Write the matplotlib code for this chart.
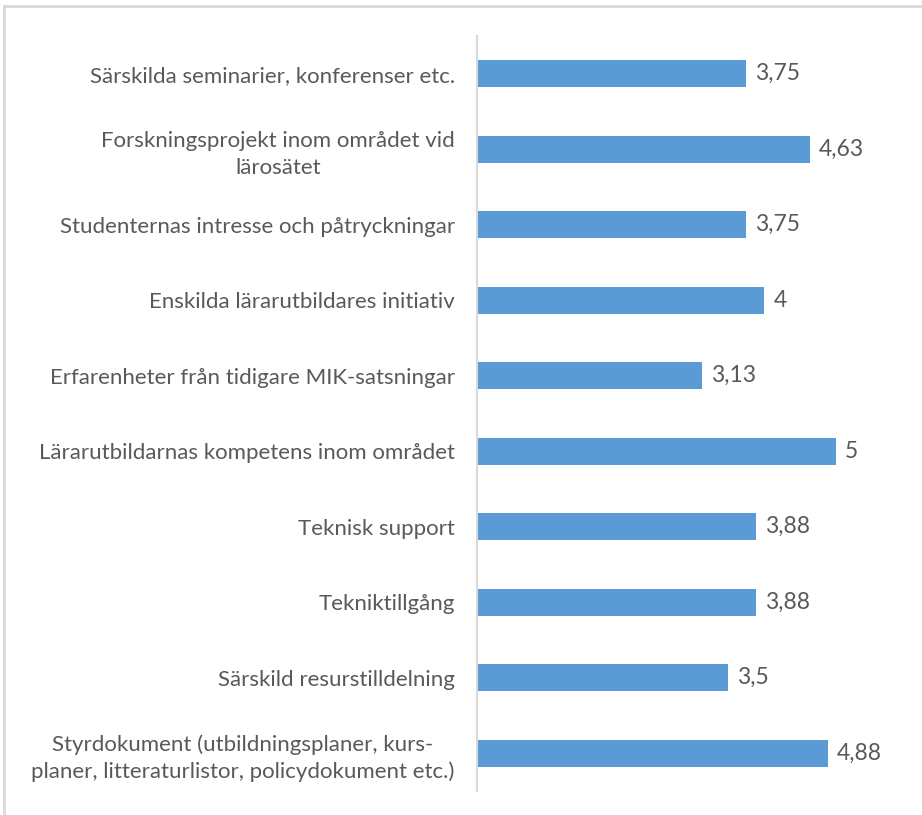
import matplotlib
matplotlib.use("Agg")
import matplotlib.pyplot as plt
from matplotlib.patches import Rectangle

categories = [
    "Särskilda seminarier, konferenser etc.",
    "Forskningsprojekt inom området vid\nlärosätet",
    "Studenternas intresse och påtryckningar",
    "Enskilda lärarutbildares initiativ",
    "Erfarenheter från tidigare MIK-satsningar",
    "Lärarutbildarnas kompetens inom området",
    "Teknisk support",
    "Tekniktillgång",
    "Särskild resurstilldelning",
    "Styrdokument (utbildningsplaner, kurs-\nplaner, litteraturlistor, policydokument etc.)",
]
values = [3.75, 4.63, 3.75, 4.0, 3.13, 5.0, 3.88, 3.88, 3.5, 4.88]
value_labels = ["3,75", "4,63", "3,75", "4", "3,13", "5", "3,88", "3,88", "3,5", "4,88"]

plt.rcParams['font.family'] = ['Lato', 'DejaVu Sans']
text_color = "#595959"
bar_color = "#5B9BD5"

fig = plt.figure(figsize=(9.22, 8.15), dpi=100)
ax = fig.add_axes([477/922, 1 - 791/815, (908 - 477)/922, (791 - 36)/815])

n = len(categories)
ypos = list(range(n))[::-1]
ax.barh(ypos, values, height=0.36, color=bar_color, zorder=2)
ax.set_ylim(-0.5, n - 0.5)
ax.set_xlim(0, 6)

ax.set_yticks(ypos)
ax.set_yticklabels(categories, fontsize=16, color=text_color, multialignment='center',
                   linespacing=1.4)
ax.tick_params(axis='y', length=0, pad=16)
ax.set_xticks([])

for s in ['top', 'right', 'bottom']:
    ax.spines[s].set_visible(False)
ax.spines['left'].set_color('#d9d9d9')
ax.spines['left'].set_linewidth(1.5)

for y, v, lab in zip(ypos, values, value_labels):
    ax.annotate(lab, xy=(v, y), xytext=(6.5, 0), textcoords='offset points',
                va='center', ha='left', fontsize=16.5, color=text_color)

border = Rectangle((4/922, -0.1), 1.2, 1 - 6/815 + 0.1, transform=fig.transFigure,
                   fill=False, edgecolor='#d9d9d9', linewidth=2, clip_on=False)
fig.patches.append(border)

fig.savefig("out.png", dpi=100)
